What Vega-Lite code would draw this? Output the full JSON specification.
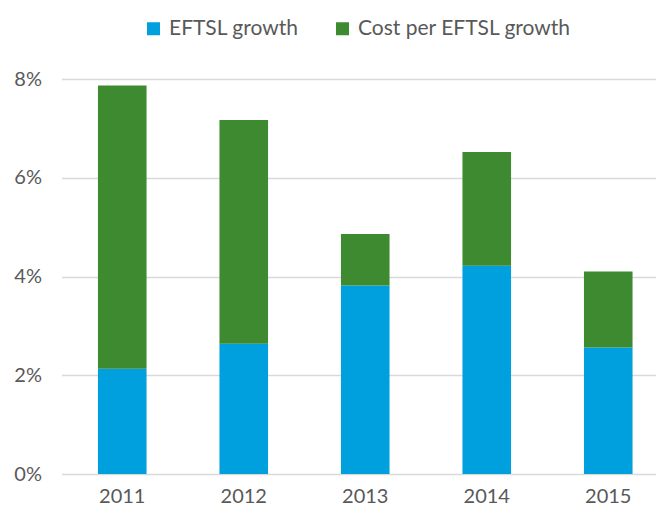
{
  "$schema": "https://vega.github.io/schema/vega-lite/v6.json",
  "autosize": "none",
  "width": 594.5,
  "height": 395,
  "padding": {"left": 61.5, "top": 79, "right": 0, "bottom": 39},
  "background": "white",
  "config": {
    "font": "Lato",
    "view": {"stroke": null},
    "axis": {"labelColor": "#595959", "labelFont": "Lato", "labelFontSize": 20, "domain": false, "ticks": false, "title": null}
  },
  "data": {
    "values": [
      {"year": "2011", "series": "EFTSL growth", "k": 1, "value": 0.0213},
      {"year": "2011", "series": "Cost per EFTSL growth", "k": 2, "value": 0.0574},
      {"year": "2012", "series": "EFTSL growth", "k": 1, "value": 0.0264},
      {"year": "2012", "series": "Cost per EFTSL growth", "k": 2, "value": 0.0453},
      {"year": "2013", "series": "EFTSL growth", "k": 1, "value": 0.0382},
      {"year": "2013", "series": "Cost per EFTSL growth", "k": 2, "value": 0.0104},
      {"year": "2014", "series": "EFTSL growth", "k": 1, "value": 0.0422},
      {"year": "2014", "series": "Cost per EFTSL growth", "k": 2, "value": 0.0230},
      {"year": "2015", "series": "EFTSL growth", "k": 1, "value": 0.0256},
      {"year": "2015", "series": "Cost per EFTSL growth", "k": 2, "value": 0.0154}
    ]
  },
  "mark": {"type": "bar"},
  "encoding": {
    "x": {
      "field": "year", "type": "ordinal",
      "scale": {"range": [0, 607.5], "paddingInner": 0.6, "paddingOuter": 0.3},
      "axis": {"labelAngle": 0, "labelPadding": 12, "grid": false}
    },
    "y": {
      "field": "value", "type": "quantitative", "stack": "zero",
      "scale": {"domain": [0, 0.08], "nice": false},
      "axis": {"values": [0, 0.02, 0.04, 0.06, 0.08], "format": ".0%", "labelPadding": 20, "gridColor": "#D9D9D9", "gridWidth": 1.3}
    },
    "color": {
      "field": "series", "type": "nominal",
      "scale": {"domain": ["EFTSL growth", "Cost per EFTSL growth"], "range": ["#00A0DE", "#3D8A30"]},
      "legend": {
        "title": null, "orient": "none", "direction": "horizontal",
        "legendX": 81.5, "legendY": -61,
        "symbolType": "square", "symbolSize": 169, "symbolStrokeWidth": 0,
        "labelFontSize": 21, "labelColor": "#595959", "labelFont": "Lato", "labelLimit": 400,
        "labelOffset": 5, "columnPadding": 33
      }
    },
    "order": {"field": "k", "type": "quantitative"}
  }
}
